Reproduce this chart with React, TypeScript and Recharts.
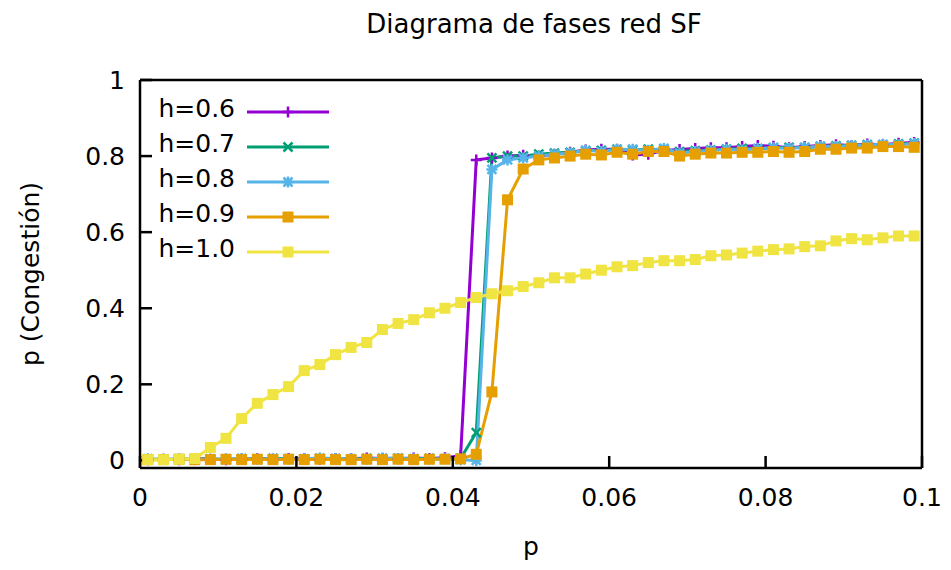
import React from 'react';
import { LineChart, Line, XAxis, YAxis, Legend } from 'recharts';

const FONT = '"DejaVu Sans", Verdana, sans-serif';

// probabilidad p (eje x)
const P = [
  0.001, 0.003, 0.005, 0.007, 0.009, 0.011, 0.013, 0.015, 0.017, 0.019,
  0.021, 0.023, 0.025, 0.027, 0.029, 0.031, 0.033, 0.035, 0.037, 0.039,
  0.041, 0.043, 0.045, 0.047, 0.049, 0.051, 0.053, 0.055, 0.057, 0.059,
  0.061, 0.063, 0.065, 0.067, 0.069, 0.071, 0.073, 0.075, 0.077, 0.079,
  0.081, 0.083, 0.085, 0.087, 0.089, 0.091, 0.093, 0.095, 0.097, 0.099,
];

const H06 = [
  0.002, 0.003, 0.002, 0.004, 0.003, 0.002, 0.003, 0.004, 0.003, 0.005,
  0.004, 0.003, 0.005, 0.004, 0.006, 0.005, 0.004, 0.006, 0.005, 0.007,
  0.012, 0.79, 0.795, 0.8, 0.802, 0.8, 0.805, 0.81, 0.816, 0.818,
  0.818, 0.803, 0.805, 0.815, 0.817, 0.82, 0.822, 0.822, 0.825, 0.828,
  0.826, 0.822, 0.825, 0.828, 0.83, 0.828, 0.832, 0.83, 0.834, 0.836,
];

const H07 = [
  0.003, 0.002, 0.003, 0.003, 0.004, 0.002, 0.004, 0.003, 0.005, 0.004,
  0.003, 0.005, 0.004, 0.003, 0.005, 0.004, 0.006, 0.004, 0.005, 0.004,
  0.005, 0.073, 0.795, 0.8, 0.8, 0.805, 0.808, 0.81, 0.814, 0.815,
  0.818, 0.816, 0.818, 0.817, 0.812, 0.814, 0.816, 0.818, 0.82, 0.819,
  0.822, 0.823, 0.822, 0.825, 0.827, 0.828, 0.83, 0.829, 0.832, 0.834,
];

const H08 = [
  0.004, 0.003, 0.004, 0.002, 0.003, 0.004, 0.005, 0.003, 0.004, 0.003,
  0.004, 0.006, 0.005, 0.004, 0.003, 0.006, 0.005, 0.004, 0.003, 0.004,
  0.002, 0.0, 0.765, 0.79, 0.795, 0.8, 0.805, 0.808, 0.815, 0.812,
  0.817, 0.818, 0.815, 0.82, 0.808, 0.812, 0.815, 0.818, 0.816, 0.82,
  0.822, 0.82, 0.823, 0.826, 0.825, 0.828, 0.829, 0.831, 0.83, 0.833,
];

const H09 = [
  0.002, 0.002, 0.003, 0.002, 0.002, 0.003, 0.002, 0.003, 0.002, 0.003,
  0.002, 0.003, 0.002, 0.002, 0.003, 0.002, 0.003, 0.002, 0.003, 0.003,
  0.004, 0.016, 0.18, 0.685, 0.766, 0.79, 0.795, 0.8, 0.805, 0.803,
  0.81, 0.805, 0.812, 0.812, 0.8, 0.805, 0.808, 0.808, 0.81, 0.81,
  0.812, 0.81, 0.812, 0.818, 0.818, 0.821, 0.821, 0.825, 0.825, 0.823,
];

const H10 = [
  0.002, 0.002, 0.003, 0.005, 0.034, 0.058, 0.11, 0.15, 0.173, 0.194,
  0.236, 0.252, 0.278, 0.297, 0.31, 0.344, 0.36, 0.37, 0.388, 0.4,
  0.415, 0.428, 0.438, 0.446, 0.457, 0.467, 0.48, 0.48, 0.49, 0.5,
  0.509, 0.512, 0.52, 0.525, 0.525, 0.528, 0.538, 0.54, 0.545, 0.55,
  0.554, 0.556, 0.562, 0.564, 0.577, 0.583, 0.58, 0.585, 0.59, 0.59,
];

const X_TICKS = [0, 0.02, 0.04, 0.06, 0.08, 0.1];
const Y_TICKS = [0, 0.2, 0.4, 0.6, 0.8, 1];

const SERIES = [
  { key: 'h06', name: 'h=0.6', color: '#9400d3', shape: 'plus', values: H06 },
  { key: 'h07', name: 'h=0.7', color: '#009e73', shape: 'cross', values: H07 },
  { key: 'h08', name: 'h=0.8', color: '#56b4e9', shape: 'star', values: H08 },
  { key: 'h09', name: 'h=0.9', color: '#e69f00', shape: 'square', values: H09 },
  { key: 'h10', name: 'h=1.0', color: '#f0e442', shape: 'square', values: H10 },
];

const data = P.map((p, i) => {
  const row: any = { p };
  SERIES.forEach(s => { row[s.key] = s.values[i]; });
  return row;
});

const Marker = ({ shape, color, cx, cy }: any) => {
  if (cx == null || cy == null) return null;
  const r = 5.5;
  const d = 4.5;
  if (shape === 'square') {
    return <rect x={cx - r} y={cy - r} width={2 * r} height={2 * r} fill={color} />;
  }
  let path = '';
  if (shape === 'plus' || shape === 'star') {
    path += `M${cx - r},${cy}H${cx + r}M${cx},${cy - r}V${cy + r}`;
  }
  if (shape === 'cross' || shape === 'star') {
    path += `M${cx - d},${cy - d}L${cx + d},${cy + d}M${cx - d},${cy + d}L${cx + d},${cy - d}`;
  }
  return <path d={path} stroke={color} strokeWidth={2.5} fill="none" />;
};

const LegendBox = () => (
  <div style={{ fontFamily: FONT, fontSize: 25, color: '#000' }}>
    {SERIES.map(s => (
      <div key={s.key} style={{ display: 'flex', alignItems: 'center', height: 35 }}>
        <span style={{ width: 80, textAlign: 'right', lineHeight: 1, position: 'relative', top: -3 }}>{s.name}</span>
        <svg width={96} height={20} style={{ display: 'block' }}>
          <line x1={12} x2={94} y1={10} y2={10} stroke={s.color} strokeWidth={3} />
          <Marker shape={s.shape} color={s.color} cx={53} cy={10} />
        </svg>
      </div>
    ))}
  </div>
);

const tickStyle = { fontFamily: FONT, fontSize: 25, fill: '#000' };
const axisStyle = { stroke: '#000', strokeWidth: 2.5 };

const App: React.FC = () => {
  return (
    <div style={{ position: 'relative', width: 951, height: 570, background: '#fff', fontFamily: FONT }}>
      <style>{'body{margin:0}'}</style>
      <div style={{ position: 'absolute', left: 140, width: 788, top: 11, textAlign: 'center', fontSize: 26, lineHeight: 1 }}>
        Diagrama de fases red SF
      </div>
      <LineChart
        width={951}
        height={570}
        data={data}
        margin={{ top: 70, right: 19, bottom: 62, left: 80 }}
      >
        <XAxis
          dataKey="p"
          type="number"
          domain={[0, 0.1]}
          ticks={X_TICKS}
          tickFormatter={(v: number) => String(v)}
          height={40}
          tickSize={-12}
          tickMargin={32}
          tick={tickStyle}
          axisLine={axisStyle}
          tickLine={axisStyle}
          allowDataOverflow
        />
        <XAxis
          xAxisId="top"
          orientation="top"
          type="number"
          domain={[0, 0.1]}
          ticks={X_TICKS}
          height={10}
          tickSize={-12}
          tick={false}
          axisLine={axisStyle}
          tickLine={axisStyle}
          allowDataOverflow
        />
        <YAxis
          type="number"
          domain={[-0.02, 1]}
          ticks={Y_TICKS}
          tickFormatter={(v: number) => String(v)}
          width={60}
          tickSize={-12}
          tickMargin={27}
          tick={tickStyle}
          axisLine={axisStyle}
          tickLine={axisStyle}
          allowDataOverflow
        />
        <YAxis
          yAxisId="right"
          orientation="right"
          type="number"
          domain={[-0.02, 1]}
          ticks={Y_TICKS}
          width={10}
          tickSize={-12}
          tick={false}
          axisLine={axisStyle}
          tickLine={axisStyle}
          allowDataOverflow
        />
        <Legend
          layout="vertical"
          align="center"
          verticalAlign="middle"
          content={() => <LegendBox />}
          wrapperStyle={{ left: 155, top: 94, width: 'auto', height: 'auto' }}
        />
        {SERIES.map(s => (
          <Line
            key={s.key}
            dataKey={s.key}
            name={s.name}
            stroke={s.color}
            strokeWidth={3}
            type="linear"
            dot={(props: any) => (
              <Marker key={`${s.key}-${props.index}`} shape={s.shape} color={s.color} cx={props.cx} cy={props.cy} />
            )}
            activeDot={false}
            isAnimationActive={false}
          />
        ))}
      </LineChart>
      <div style={{ position: 'absolute', left: 140, width: 782, top: 534, textAlign: 'center', fontSize: 25, lineHeight: 1 }}>
        p
      </div>
      <div
        style={{
          position: 'absolute',
          left: 30,
          top: 274,
          transform: 'translate(-50%, -50%) rotate(-90deg)',
          fontSize: 25,
          lineHeight: 1,
          whiteSpace: 'nowrap',
        }}
      >
        p (Congestión)
      </div>
    </div>
  );
};

export default App;
